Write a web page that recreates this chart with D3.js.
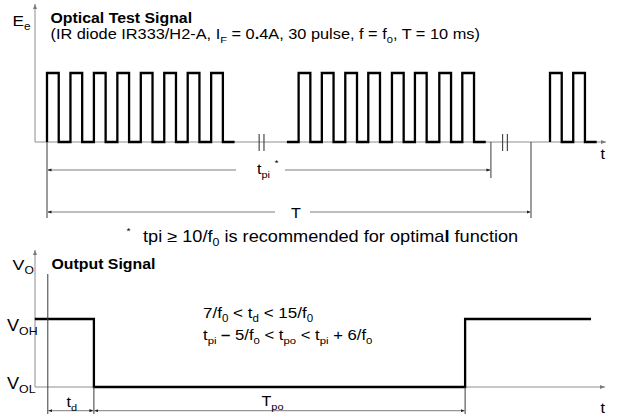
<!DOCTYPE html>
<html><head><meta charset="utf-8">
<script src="https://cdn.jsdelivr.net/npm/d3@7"></script>
<style>
html,body{margin:0;padding:0;background:#fff;}
svg{display:block;font-family:"Liberation Sans",Arial,Helvetica,sans-serif;}
</style></head><body>
<svg id="chart" width="617" height="417"></svg>
<script>
// Time is measured in carrier periods (1/f0).
const pulseWidth = 0.5;
const burst1Rises = [0, 1, 2, 3, 4, 5, 6, 7];
const burst2Rises = [10.73, 11.72, 12.72, 13.70, 14.71, 15.69, 16.73, 17.71];
const burst3Rises = [21.45, 22.44];
const burstLeads = [0, 0.5, 0];      // low level drawn before each burst
const burstTails = [0.5, 0.5, 0.5];  // low level drawn after each burst
const breakMarks = [9.15, 19.53];    // compressed time gaps
const tpiEnd = 18.93;
const periodEnd = 20.64;

// Receiver output: [time, level] with 1 = VOH, 0 = VOL
const outputSteps = [[-0.52, 1], [2, 0], [17.83, 1], [23.2, 1]];
const tdEnd = 2;
const tpoEnd = 17.83;

const SX = 1.15;  // horizontal text stretch

const svg = d3.select('#chart');
const x = d3.scaleLinear().domain([0, 20]).range([47, 516]);
const yTop = d3.scaleLinear().domain([0, 1]).range([142, 73]);
const yBot = d3.scaleLinear().domain([0, 1]).range([387, 319]);

const defs = svg.append('defs');
function marker(id, fill, len, half, orient) {
  defs.append('marker').attr('id', id)
    .attr('markerUnits', 'userSpaceOnUse')
    .attr('viewBox', `${-len} ${-half} ${len} ${half * 2}`)
    .attr('refX', 0).attr('refY', 0)
    .attr('markerWidth', len).attr('markerHeight', half * 2)
    .attr('orient', orient)
    .append('path').attr('d', `M0,0L${-len},${-half}L${-len},${half}Z`).attr('fill', fill);
}
marker('axisArrow', '#7a7a7a', 5, 2, 'auto');
marker('dimEnd', '#222', 4, 1.6, 'auto');
marker('dimStart', '#222', 4, 1.6, 'auto-start-reverse');

const AXIS = '#8e8e8e', DIM = '#7d7d7d', EXT = '#3a3a3a';

function seg(g, x1, y1, x2, y2, stroke, w) {
  return g.append('line').attr('x1', x1).attr('y1', y1).attr('x2', x2).attr('y2', y2)
    .attr('stroke', stroke).attr('stroke-width', w || 1);
}

// text with sub/superscripts; parts = [[str, kind]] kind: '', 'sub', 'sup', 'b'
function label(g, px, py, parts, size, weight, anchor) {
  const t = g.append('text')
    .attr('transform', `translate(${px},${py}) scale(${SX},1)`)
    .attr('font-size', size).attr('font-weight', weight || 'normal')
    .attr('text-anchor', anchor || 'start').attr('fill', '#000');
  let shift = 0;
  parts.forEach(([s, kind]) => {
    let target = 0, fs = size, fw = null;
    if (kind === 'sub') { target = size * 0.28; fs = size * 0.68; }
    if (kind === 'sup') { target = -size * 0.45; fs = size * 0.6; }
    if (kind === 'b') fw = 'bold';
    const ts = t.append('tspan').attr('dy', target - shift).attr('font-size', fs).text(s);
    if (fw) ts.attr('font-weight', fw);
    shift = target;
  });
  return t;
}

/* ---------- optical test signal ---------- */
const gTop = svg.append('g');
seg(gTop, 35, 142, 35, 4, AXIS).attr('marker-end', 'url(#axisArrow)');
seg(gTop, 35, 142, 606, 142, AXIS).attr('marker-end', 'url(#axisArrow)');

const bursts = [burst1Rises, burst2Rises, burst3Rises];
const stepLine = d3.line().x(d => x(d[0])).curve(d3.curveStepAfter);
bursts.forEach((rises, i) => {
  const pts = [[rises[0] - burstLeads[i], 0]];
  rises.forEach(r => { pts.push([r, 1]); pts.push([r + pulseWidth, 0]); });
  pts.push([rises[rises.length - 1] + pulseWidth + burstTails[i], 0]);
  gTop.append('path').attr('d', stepLine.y(d => yTop(d[1]))(pts))
    .attr('fill', 'none').attr('stroke', '#000').attr('stroke-width', 2.3)
    .attr('stroke-linejoin', 'miter');
});

breakMarks.forEach(b => {
  [-2.4, 2.4].forEach(o => seg(gTop, x(b) + o, 134, x(b) + o, 151, '#4a4a4a', 1.2));
});

// extension lines
seg(gTop, x(0), 142, x(0), 218, EXT);
seg(gTop, x(tpiEnd), 142, x(tpiEnd), 178, EXT);
seg(gTop, x(periodEnd), 142, x(periodEnd), 218, EXT);

// dimension lines, split around their labels
function dim(g, a, b, y, gap) {
  const l1 = seg(g, a, y, gap ? gap[0] : b, y, DIM).attr('marker-start', 'url(#dimStart)');
  const l2 = gap ? seg(g, gap[1], y, b, y, DIM) : l1;
  l2.attr('marker-end', 'url(#dimEnd)');
}
dim(gTop, x(0) + 0.5, x(tpiEnd) - 0.5, 170, [236, 285]);
dim(gTop, x(0) + 0.5, x(periodEnd) - 0.5, 212, [275, 310]);

label(gTop, 257, 174, [['t', ''], ['pi', 'sub']], 14);
label(gTop, 274.5, 166, [['*', '']], 9);
label(gTop, 291, 217.5, [['T', '']], 14);
label(gTop, 600.5, 158.5, [['t', '']], 14);

label(gTop, 12.5, 26, [['E', ''], ['e', 'sub']], 15);
label(gTop, 50.5, 23, [['Optical Test Signal', '']], 13.8, 'bold');
label(gTop, 50.5, 39, [['(IR diode IR333/H2-A, I', ''], ['F', 'sub'], [' = 0', ''], ['.', 'b'],
  ['4A, 30 pulse, f = f', ''], ['0', 'sub'], [', T = 10 ms)', '']], 14.2);
label(gTop, 126.5, 234, [['*', '']], 9);
label(gTop, 143, 242, [['tpi ≥ 10/f', ''], ['0', 'sub'], [' is recommended for optima', ''], ['l', 'b'],
  [' function', '']], 15.8);

/* ---------- output signal ---------- */
const gBot = svg.append('g');
seg(gBot, 35, 387, 35, 250, AXIS).attr('marker-end', 'url(#axisArrow)');
seg(gBot, 35, 387, 605, 387, AXIS).attr('marker-end', 'url(#axisArrow)');

gBot.append('path')
  .attr('d', d3.line().x(d => x(d[0])).y(d => yBot(d[1])).curve(d3.curveStepAfter)(outputSteps))
  .attr('fill', 'none').attr('stroke', '#000').attr('stroke-width', 2.3);

seg(gBot, x(0) + 0.8, 274, x(0) + 0.8, 414, EXT);
seg(gBot, x(tdEnd), 387, x(tdEnd), 414, EXT);
seg(gBot, x(tpoEnd), 387, x(tpoEnd), 414, EXT);
dim(gBot, x(0) + 1.3, x(tdEnd) - 0.5, 410.7, null);
dim(gBot, x(tdEnd) + 0.5, x(tpoEnd) - 0.5, 410.7, null);

label(gBot, 66.5, 407, [['t', ''], ['d', 'sub']], 14);
label(gBot, 261.5, 406, [['T', ''], ['po', 'sub']], 14);
label(gBot, 600.5, 412.5, [['t', '']], 14);

label(gBot, 12.5, 270, [['V', ''], ['O', 'sub']], 15.5);
label(gBot, 51.5, 269, [['Output Signal', '']], 13.8, 'bold');
label(gBot, 7, 331, [['V', ''], ['OH', 'sub']], 15.8);
label(gBot, 7, 389, [['V', ''], ['OL', 'sub']], 15.8);

label(gBot, 203, 318, [['7/f', ''], ['0', 'sub'], [' < t', ''], ['d', 'sub'], [' < 15/f', ''], ['0', 'sub']], 14.8);
label(gBot, 203, 340, [['t', ''], ['pi', 'sub'], [' ', ''], ['–', 'b'], [' 5/f', ''], ['0', 'sub'],
  [' < t', ''], ['po', 'sub'], [' < t', ''], ['pi', 'sub'], [' + 6/f', ''], ['0', 'sub']], 14.5);
</script>
</body></html>
